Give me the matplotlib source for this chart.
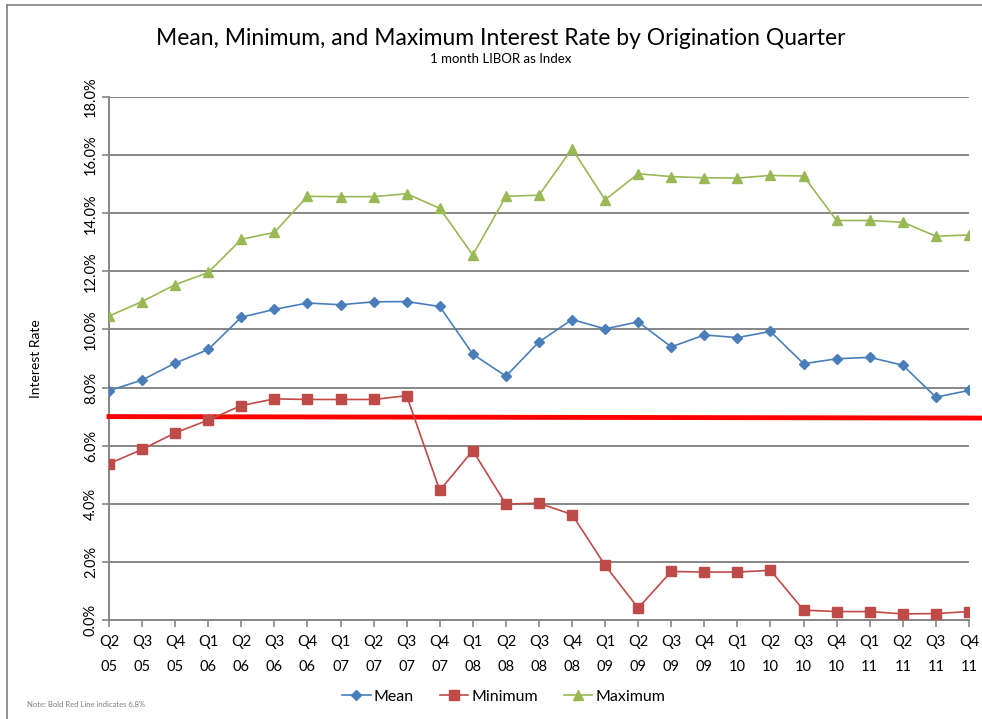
import numpy as np
import matplotlib
matplotlib.use("Agg")
import matplotlib.pyplot as plt
from matplotlib.lines import Line2D
from matplotlib.ticker import FuncFormatter

plt.rcParams['font.family'] = ['Lato', 'DejaVu Sans']

# quarters Q2 05 .. Q4 11
quarters = ["Q2\n05", "Q3\n05", "Q4\n05", "Q1\n06", "Q2\n06", "Q3\n06", "Q4\n06",
            "Q1\n07", "Q2\n07", "Q3\n07", "Q4\n07", "Q1\n08", "Q2\n08", "Q3\n08",
            "Q4\n08", "Q1\n09", "Q2\n09", "Q3\n09", "Q4\n09", "Q1\n10", "Q2\n10",
            "Q3\n10", "Q4\n10", "Q1\n11", "Q2\n11", "Q3\n11", "Q4\n11"]

mean_rate = [7.89, 8.26, 8.84, 9.31, 10.42, 10.69, 10.91, 10.85, 10.95, 10.96, 10.79,
             9.15, 8.39, 9.57, 10.34, 10.02, 10.26, 9.40, 9.81, 9.72, 9.93, 8.82,
             8.99, 9.04, 8.77, 7.67, 7.90]
min_rate = [5.38, 5.87, 6.44, 6.88, 7.38, 7.61, 7.59, 7.59, 7.59, 7.72, 4.46,
            5.83, 3.99, 4.02, 3.63, 1.88, 0.41, 1.67, 1.65, 1.65, 1.71, 0.34,
            0.29, 0.29, 0.21, 0.22, 0.29]
max_rate = [10.46, 10.96, 11.54, 11.96, 13.10, 13.34, 14.58, 14.57, 14.57, 14.67, 14.17,
            12.56, 14.58, 14.62, 16.22, 14.46, 15.36, 15.26, 15.22, 15.21, 15.30, 15.28,
            13.75, 13.75, 13.69, 13.21, 13.25]
ref_line = [7.0, 6.95]   # bold red line (start, end)

fig = plt.figure(figsize=(9.82, 7.19), dpi=100)
ax = fig.add_axes([0.111, 0.1377, 0.8757, 0.7274])

x = np.arange(len(quarters))
ax.plot(x, mean_rate, color='#4A7EBB', lw=1.2, marker='D', ms=5, label='Mean', zorder=4)
ax.plot(x, min_rate, color='#BE4B48', lw=1.2, marker='s', ms=7, label='Minimum', zorder=4)
ax.plot(x, max_rate, color='#98B954', lw=1.2, marker='^', ms=7, label='Maximum', zorder=4)

# red reference line runs past the plot area to the right edge
ax.plot([0, 1.015], ref_line, color='#FF0000', lw=3.5, transform=ax.get_yaxis_transform(),
        clip_on=False, zorder=3)

ax.set_xlim(0, len(quarters) - 1)
ax.set_ylim(0, 18)
ax.set_xticks(x)
ax.set_xticklabels(quarters, fontsize=10.5, linespacing=2.0)
ax.set_yticks(np.arange(0, 19, 2))
ax.yaxis.set_major_formatter(FuncFormatter(lambda v, p: f"{v:.1f}%"))
for lbl in ax.get_yticklabels():
    lbl.set_rotation(90)
    lbl.set_va('center')
    lbl.set_fontsize(10.5)

ax.grid(axis='y', color='#868686', lw=1.4)
ax.set_axisbelow(True)
for s in ['top', 'right']:
    ax.spines[s].set_visible(False)
ax.spines['left'].set_color('#868686')
ax.spines['bottom'].set_color('#868686')
ax.spines['left'].set_linewidth(1.4)
ax.spines['bottom'].set_linewidth(1.4)
ax.tick_params(axis='both', color='#868686', length=5, width=1.2, direction='out')
ax.tick_params(axis='x', pad=6)
ax.tick_params(axis='y', pad=3)

ax.set_ylabel('Interest Rate', fontsize=10, labelpad=30)

fig.text(0.51, 0.947, 'Mean, Minimum, and Maximum Interest Rate by Origination Quarter',
         ha='center', va='center', fontsize=16.5)
fig.text(0.51, 0.918, '1 month LIBOR as Index', ha='center', va='center', fontsize=9.5)
fig.text(0.028, 0.02, 'Note: Bold Red Line indicates 6.8%', fontsize=5.5, color='#7f7f7f',
         ha='left', va='center')

fig.legend(loc='center', bbox_to_anchor=(0.513, 0.031), ncol=3, frameon=False,
           fontsize=11.5, handlelength=1.8, columnspacing=1.6, handletextpad=0.2)

# chart border (top and left visible)
fig.add_artist(Line2D([0.007, 1.0], [0.993, 0.993], color='#7f7f7f', lw=1.2))
fig.add_artist(Line2D([0.007, 0.007], [0.0, 0.993], color='#7f7f7f', lw=1.2))

fig.savefig('out.png', dpi=100)
